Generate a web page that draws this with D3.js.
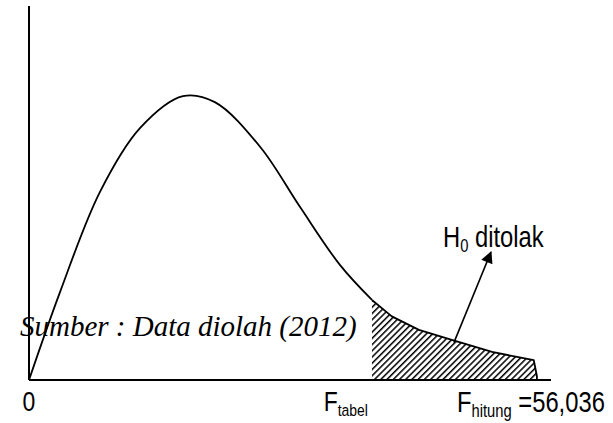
<!DOCTYPE html>
<html>
<head>
<meta charset="utf-8">
<script src="https://cdn.jsdelivr.net/npm/d3@7/dist/d3.min.js"></script>
<style>
  body { margin: 0; background: #fff; }
  svg { display: block; }
  .lbl { font-family: "Liberation Sans", Arial, sans-serif; fill: #000; }
  .src { font-family: "Liberation Serif", "Times New Roman", serif; font-style: italic; fill: #000; }
</style>
</head>
<body>
<div id="chart"></div>
<script>
// density curve (arbitrary units, x 0..10, y 0..1)
var curveX = [0, 0.594, 1.36, 2.13, 2.95, 3.56, 4.43, 5.19, 5.96, 6.57];
var curveY = [0, 0.235, 0.503, 0.674, 0.759, 0.743, 0.623, 0.463, 0.307, 0.214];

// rejection area (hand drawn tail)
var tailX = [6.57, 6.95, 7.47, 8.10, 8.87, 9.67, 9.73, 9.73, 6.57];
var tailY = [0.214, 0.17, 0.134, 0.107, 0.075, 0.053, 0.01, 0, 0];

var fTabel = 6.57;
var arrowFrom = [8.14, 0.10];
var arrowTo = [8.85, 0.342];

var labels = {
  zero: "0",
  fMain: "F",
  tabelSub: "tabel",
  hitungSub: "hitung",
  hitungVal: " =56,036",
  h: "H",
  hSub: "0",
  ditolak: " ditolak",
  source: "Sumber : Data diolah (2012)"
};

var W = 613, H = 423;
var narrow = 0.82; // the original uses a condensed sans face

var x = d3.scaleLinear().domain([0, 10]).range([29, 551]);
var y = d3.scaleLinear().domain([0, 1]).range([380, 6]);

var svg = d3.select("#chart").append("svg")
    .attr("width", W)
    .attr("height", H);

// hatch pattern
var defs = svg.append("defs");
defs.append("pattern")
    .attr("id", "hatch")
    .attr("patternUnits", "userSpaceOnUse")
    .attr("width", 4.4)
    .attr("height", 4.4)
    .attr("patternTransform", "rotate(45)")
  .append("line")
    .attr("x1", 0).attr("y1", 0)
    .attr("x2", 0).attr("y2", 4.4)
    .attr("stroke", "#000")
    .attr("stroke-width", 3);

defs.append("marker")
    .attr("id", "head")
    .attr("viewBox", "0 0 10 10")
    .attr("refX", 9).attr("refY", 5)
    .attr("markerWidth", 14).attr("markerHeight", 12)
    .attr("markerUnits", "userSpaceOnUse")
    .attr("orient", "auto")
  .append("path")
    .attr("d", "M0,0 L10,5 L0,10 Z")
    .attr("fill", "#000");

// axes (plain lines, no ticks)
svg.append("line")
    .attr("x1", x(0)).attr("y1", y(1))
    .attr("x2", x(0)).attr("y2", y(0))
    .attr("stroke", "#000").attr("stroke-width", 2);
svg.append("line")
    .attr("x1", x(0)).attr("y1", y(0))
    .attr("x2", x(10)).attr("y2", y(0))
    .attr("stroke", "#000").attr("stroke-width", 2);

// shaded tail
var tail = tailX.map(function(d, i) { return [d, tailY[i]]; });
svg.append("path")
    .datum(tail)
    .attr("d", d3.line().x(function(d) { return x(d[0]); }).y(function(d) { return y(d[1]); }))
    .attr("fill", "url(#hatch)")
    .attr("stroke", "#000")
    .attr("stroke-width", 1.8)
    .attr("stroke-linejoin", "round");

// the curve
var pts = curveX.map(function(d, i) { return [d, curveY[i]]; });
svg.append("path")
    .datum(pts)
    .attr("d", d3.line().curve(d3.curveCatmullRom).x(function(d) { return x(d[0]); }).y(function(d) { return y(d[1]); }))
    .attr("fill", "none")
    .attr("stroke", "#000")
    .attr("stroke-width", 1.8);

// arrow
svg.append("line")
    .attr("x1", x(arrowFrom[0])).attr("y1", y(arrowFrom[1]))
    .attr("x2", x(arrowTo[0])).attr("y2", y(arrowTo[1]))
    .attr("stroke", "#000").attr("stroke-width", 1.6)
    .attr("marker-end", "url(#head)");

// labels, squeezed horizontally to look like the condensed face
function label(px, py, anchor) {
  return svg.append("g")
      .attr("transform", "translate(" + px + "," + py + ") scale(" + narrow + ",1)")
    .append("text").attr("class", "lbl")
      .attr("text-anchor", anchor || "start");
}

label(x(0), 411, "middle")
    .attr("font-size", 28)
    .text(labels.zero);

var ft = label(x(fTabel) - 4, 411, "end").attr("font-size", 28);
ft.append("tspan").text(labels.fMain);
ft.append("tspan").attr("font-size", 17).attr("dy", 5).text(labels.tabelSub);

var fh = label(457, 412).attr("font-size", 29);
fh.append("tspan").text(labels.fMain);
fh.append("tspan").attr("font-size", 18).attr("dy", 5).text(labels.hitungSub);
fh.append("tspan").attr("dy", -5).text(labels.hitungVal);

var h0 = label(443, 247).attr("font-size", 29);
h0.append("tspan").text(labels.h);
h0.append("tspan").attr("font-size", 18).attr("dy", 5).text(labels.hSub);
h0.append("tspan").attr("dy", -5).text(labels.ditolak);

svg.append("text").attr("class", "src")
    .attr("x", 20).attr("y", 336)
    .attr("font-size", 29)
    .text(labels.source);
</script>
</body>
</html>
